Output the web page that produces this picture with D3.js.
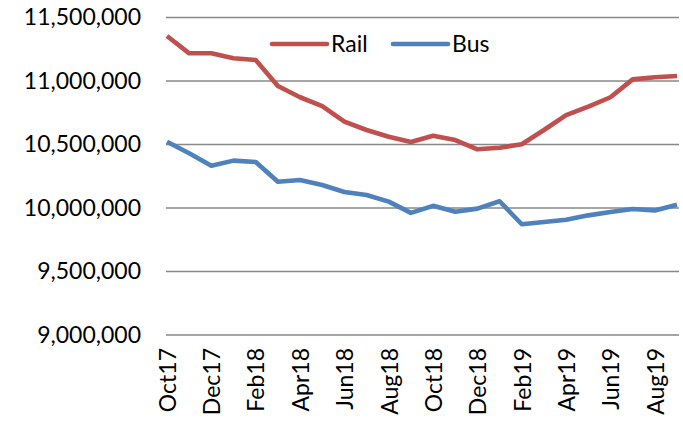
<!DOCTYPE html>
<html>
<head>
<meta charset="utf-8">
<script src="https://cdn.jsdelivr.net/npm/d3@7"></script>
<style>
    body { margin: 0; background: #fff; }
    svg text { font-family: Lato, "Liberation Sans", sans-serif; fill: #000; }
</style>
</head>
<body>
<div id="chart"></div>
<script>
// monthly ridership, Oct 2017 - Sep 2019
let months = ["Oct17", "Nov17", "Dec17", "Jan18", "Feb18", "Mar18", "Apr18", "May18",
    "Jun18", "Jul18", "Aug18", "Sep18", "Oct18", "Nov18", "Dec18", "Jan19",
    "Feb19", "Mar19", "Apr19", "May19", "Jun19", "Jul19", "Aug19", "Sep19"];

let rail = [11354000, 11218000, 11218000, 11179000, 11165000, 10961000, 10872000, 10803000,
    10680000, 10614000, 10561000, 10520000, 10569000, 10535000, 10462000, 10475000,
    10502000, 10614000, 10732000, 10798000, 10872000, 11013000, 11029000, 11039000];

let bus = [10522000, 10431000, 10333000, 10373000, 10362000, 10207000, 10220000, 10181000,
    10126000, 10102000, 10050000, 9962000, 10017000, 9970000, 9995000, 10053000,
    9872000, 9890000, 9908000, 9942000, 9968000, 9992000, 9981000, 10026000];

let yTicks = [9000000, 9500000, 10000000, 10500000, 11000000, 11500000];

let seriesNames = ["Rail", "Bus"];
let seriesColors = ["#C0504D", "#4F81BD"];

let width = 683,
    height = 421;
let plotLeft = 167,
    plotRight = 677,
    plotTop = 17.5,
    plotBottom = 335;

let svg = d3.select("#chart")
    .append("svg")
    .attr("width", width)
    .attr("height", height);

let x = d3.scalePoint()
    .domain(months)
    .range([plotLeft, plotRight]);

let y = d3.scaleLinear()
    .domain([9000000, 11500000])
    .range([plotBottom, plotTop]);

// gridlines
svg.append("g")
    .selectAll("line")
    .data(yTicks)
    .enter()
    .append("line")
    .attr("x1", plotLeft - 1)
    .attr("x2", plotRight + 2)
    .attr("y1", d => y(d))
    .attr("y2", d => y(d))
    .attr("stroke", "#898989")
    .attr("stroke-width", 1.4);

// y labels
let yAxis = d3.axisLeft(y)
    .tickValues(yTicks)
    .tickSize(0)
    .tickPadding(26)
    .tickFormat(d3.format(","));

svg.append("g")
    .attr("transform", `translate(${plotLeft},0)`)
    .call(yAxis)
    .call(g => g.select(".domain").remove())
    .selectAll("text")
    .style("font-size", "23px");

// x labels, every other month
let xAxis = d3.axisBottom(x)
    .tickValues(months.filter((m, i) => i % 2 === 0))
    .tickSize(0);

svg.append("g")
    .attr("transform", `translate(0,${plotBottom})`)
    .call(xAxis)
    .call(g => g.select(".domain").remove())
    .selectAll("text")
    .style("font-size", "23px")
    .attr("text-anchor", "end")
    .attr("transform", "rotate(-90)")
    .attr("x", -13)
    .attr("y", 0)
    .attr("dy", "0.36em");

let line = d3.line()
    .x((d, i) => x(months[i]))
    .y(d => y(d));

svg.append("g")
    .selectAll("path")
    .data([rail, bus])
    .enter()
    .append("path")
    .attr("d", line)
    .attr("fill", "none")
    .attr("stroke", (d, i) => seriesColors[i])
    .attr("stroke-width", 4.6)
    .attr("stroke-linejoin", "round");

// legend
let legendX = [272, 393];
let legend = svg.append("g")
    .selectAll("g")
    .data(seriesNames)
    .enter()
    .append("g")
    .attr("transform", (d, i) => `translate(${legendX[i]},44)`);

legend.append("line")
    .attr("x1", 0)
    .attr("x2", 55)
    .attr("stroke", (d, i) => seriesColors[i])
    .attr("stroke-width", 4.6)
    .attr("stroke-linecap", "round");

legend.append("text")
    .attr("x", 59)
    .attr("dy", "0.36em")
    .style("font-size", "23px")
    .text(d => d);
</script>
</body>
</html>
